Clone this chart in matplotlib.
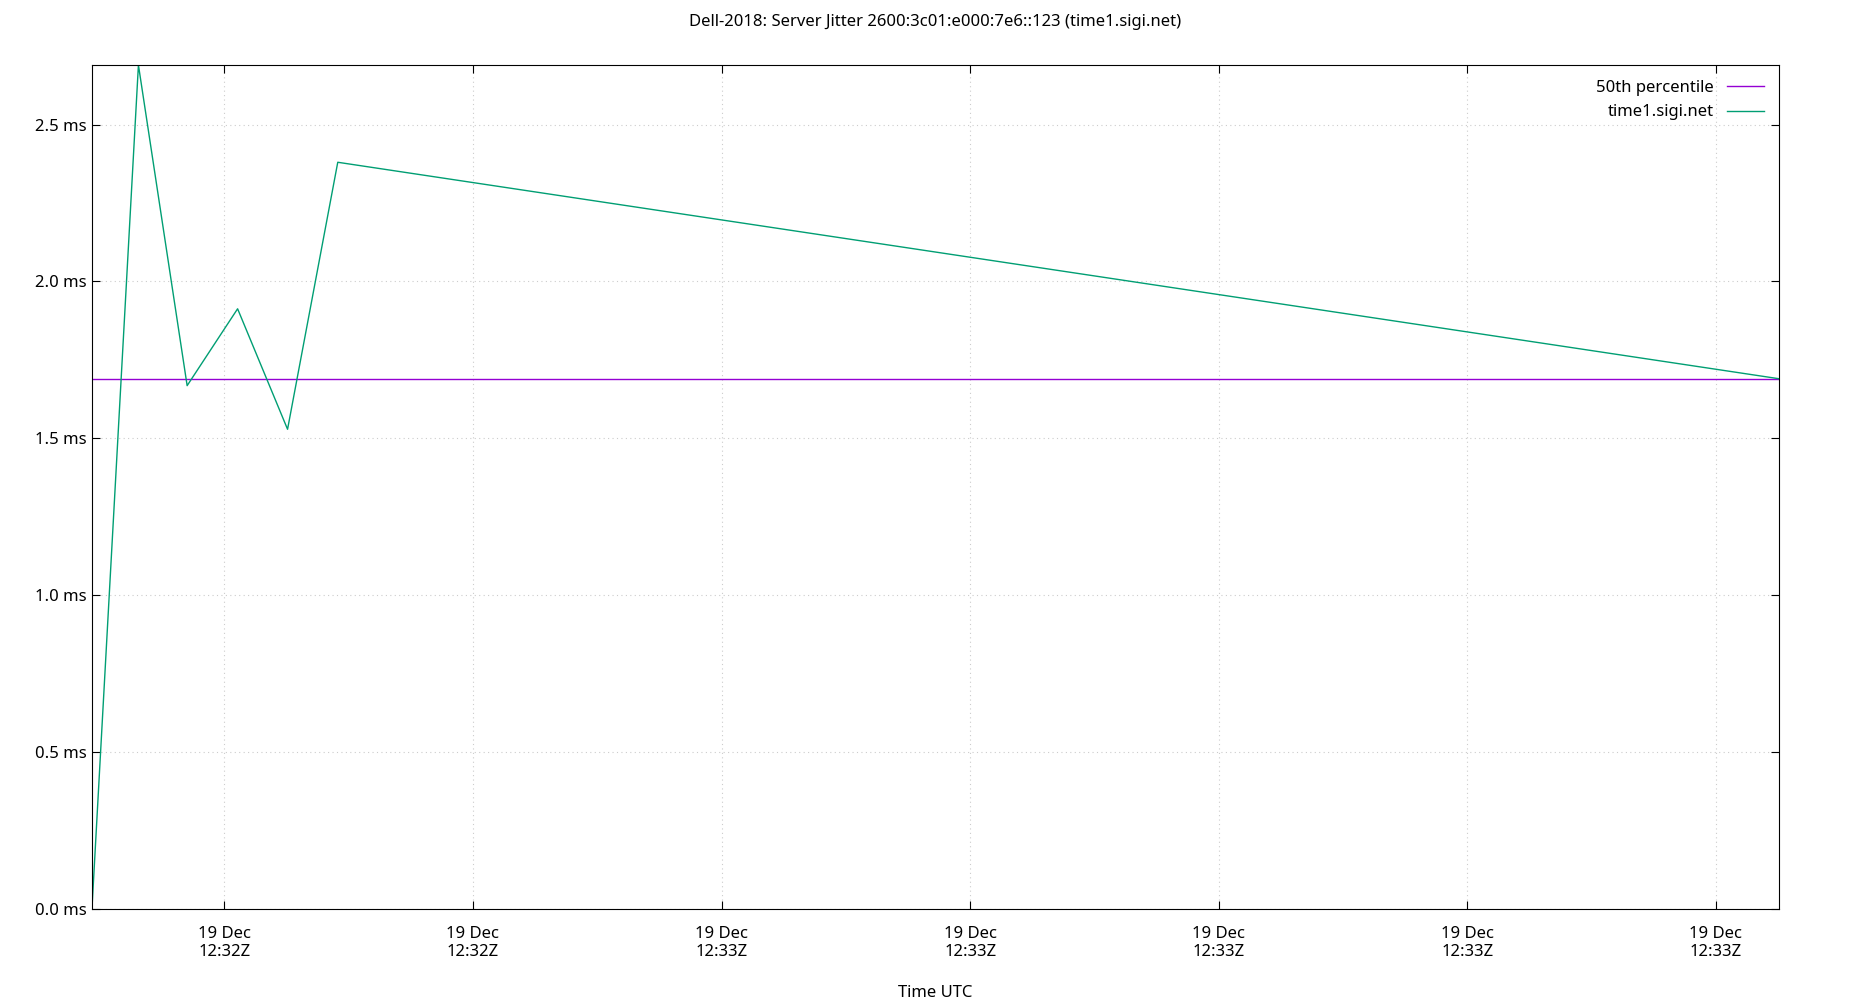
import matplotlib
matplotlib.use("Agg")
import matplotlib.pyplot as plt

# seconds after 12:32:00 UTC, 19 Dec
t = [34.67, 36.54, 38.5, 40.53, 42.54, 44.56, 102.55]
jitter = [0.0, 2.69, 1.668, 1.913, 1.529, 2.38, 1.69]
p50 = 1.69
xticks = [40, 50, 60, 70, 80, 90, 100]
xlabels = ["19 Dec\n12:32Z", "19 Dec\n12:32Z", "19 Dec\n12:33Z", "19 Dec\n12:33Z",
           "19 Dec\n12:33Z", "19 Dec\n12:33Z", "19 Dec\n12:33Z"]
yticks = [0.0, 0.5, 1.0, 1.5, 2.0, 2.5]

plt.rcParams['font.family'] = ['Noto Sans', 'DejaVu Sans']
fig = plt.figure(figsize=(18.5, 10), dpi=100)
ax = fig.add_axes([0.0497, 0.091, 0.912, 0.844])
ax.axhline(p50, color='#9400d3', lw=1.0, label='50th percentile')
ax.plot(t, jitter, color='#009e73', lw=1.0, label='time1.sigi.net')
ax.set_xlim(34.67, 102.55)
ax.set_ylim(0, 2.69)
ax.set_xticks(xticks)
ax.set_xticklabels(xlabels, fontsize=12)
ax.set_yticks(yticks)
ax.set_yticklabels([f"{v:.1f} ms" for v in yticks], fontsize=12)
ax.tick_params(direction='in', top=True, right=True, length=6)
ax.tick_params(axis='x', pad=12)
ax.grid(True, color='#cccccc', ls=(0, (1, 3)), lw=0.8)
ax.set_xlabel("Time UTC", fontsize=12, labelpad=18)
ax.set_title("Dell-2018: Server Jitter 2600:3c01:e000:7e6::123 (time1.sigi.net)", fontsize=12, pad=28)
leg = ax.legend(loc='upper right', frameon=False, fontsize=12, markerfirst=False, handlelength=2.2)
for txt in leg.get_texts():
    txt.set_ha('right')
fig.savefig("out.png")
